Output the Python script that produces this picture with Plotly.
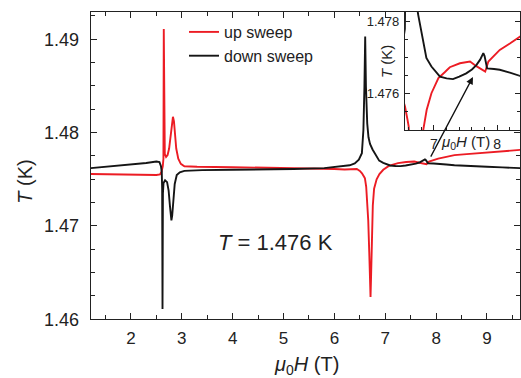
import plotly.graph_objects as go

# Up sweep (red): field in tesla, sample temperature in kelvin
field_up = [1.21, 1.6, 2.0, 2.3, 2.5, 2.57, 2.60, 2.625, 2.638, 2.645, 2.652, 2.665,
            2.69, 2.72, 2.75, 2.78, 2.805, 2.825, 2.845, 2.865, 2.89, 2.93, 2.98,
            3.05, 3.3, 4.0, 4.8, 5.5, 6.0, 6.2, 6.35, 6.44, 6.50, 6.542, 6.58,
            6.60, 6.625, 6.645, 6.665, 6.685, 6.70, 6.71, 6.72, 6.735, 6.755,
            6.78, 6.83, 6.885, 6.96, 7.07, 7.17, 7.25, 7.41, 7.57, 7.67, 7.75,
            7.81, 7.86, 7.95, 8.04, 8.2, 8.36, 8.6, 8.9, 9.2, 9.65]
temp_up = [1.47557, 1.47553, 1.4755, 1.47548, 1.47547, 1.47553, 1.4758, 1.4764,
           1.4772, 1.4911, 1.4790, 1.4777, 1.4774, 1.4776, 1.4783, 1.4796,
           1.4810, 1.4817, 1.4812, 1.4797, 1.4783, 1.4772, 1.47665, 1.4764,
           1.47635, 1.4763, 1.47625, 1.4762, 1.4761, 1.47605, 1.4761, 1.4761,
           1.4759, 1.47565, 1.4753, 1.4751, 1.4742, 1.4728, 1.4706, 1.4672,
           1.4642, 1.4624, 1.4644, 1.4685, 1.4722, 1.4740, 1.4750, 1.47556,
           1.47602, 1.47644, 1.4766, 1.47674, 1.47685, 1.4769, 1.47677,
           1.47667, 1.47662, 1.4769, 1.47706, 1.47722, 1.4774, 1.47759,
           1.4777, 1.47785, 1.47797, 1.47815]

# Down sweep (black)
field_down = [1.21, 1.6, 2.0, 2.3, 2.5, 2.56, 2.59, 2.605, 2.613, 2.62, 2.628, 2.64,
              2.67, 2.71, 2.74, 2.765, 2.785, 2.795, 2.81, 2.83, 2.86, 2.90, 2.96,
              3.05, 3.4, 4.0, 4.6, 5.2, 5.8, 6.1, 6.3, 6.40, 6.48, 6.54, 6.555,
              6.57, 6.59, 6.605, 6.62, 6.645, 6.67, 6.70, 6.75, 6.80, 6.88, 6.96,
              7.07, 7.095, 7.20, 7.30, 7.40, 7.51, 7.60, 7.67, 7.73, 7.78, 7.80,
              7.84, 7.95, 8.04, 8.2, 8.36, 8.7, 9.0, 9.3, 9.65]
temp_down = [1.4762, 1.47638, 1.4766, 1.47675, 1.4769, 1.47685, 1.4764, 1.4758,
             1.4740, 1.4611, 1.4735, 1.4746, 1.4749, 1.4747, 1.4738, 1.4722,
             1.4708, 1.4706, 1.4711, 1.4726, 1.4745, 1.47545, 1.47575, 1.4759,
             1.47598, 1.47603, 1.47605, 1.4761, 1.4762, 1.4764, 1.4765, 1.4767,
             1.4771, 1.4778, 1.4787, 1.4803, 1.4849, 1.4903, 1.4849, 1.4810,
             1.4795, 1.4788, 1.4782, 1.4777, 1.4770, 1.47676, 1.47653, 1.47648,
             1.47643, 1.47641, 1.47648, 1.47657, 1.47668, 1.4768, 1.47695,
             1.47713, 1.47705, 1.47671, 1.47669, 1.47667, 1.47659, 1.4765,
             1.47645, 1.47635, 1.47628, 1.4762]

RED = "#ec1c24"
BLACK = "#151515"
INK = "#222222"
FONT = "Liberation Sans, Arial, sans-serif"

W, H = 521, 378


def px_x(p):
    return p / W


def px_y(p):
    return 1 - p / H


fig = go.Figure()

fig.add_trace(go.Scatter(x=field_up, y=temp_up, mode="lines", name="up sweep",
                         line=dict(color=RED, width=1.9)))
fig.add_trace(go.Scatter(x=field_down, y=temp_down, mode="lines", name="down sweep",
                         line=dict(color=BLACK, width=1.9)))

# Inset: zoom on the 6.5-8.4 T region
fig.add_trace(go.Scatter(x=field_up, y=temp_up, mode="lines", showlegend=False,
                         line=dict(color=RED, width=1.9), xaxis="x2", yaxis="y2"))
fig.add_trace(go.Scatter(x=field_down, y=temp_down, mode="lines", showlegend=False,
                         line=dict(color=BLACK, width=1.9), xaxis="x2", yaxis="y2"))

axis_common = dict(showgrid=False, zeroline=False, showline=True, linecolor=INK,
                   linewidth=1.2, ticks="inside", tickcolor=INK, automargin=False)

fig.update_layout(
    width=W, height=H, autosize=False,
    margin=dict(l=0, r=0, t=0, b=0, pad=0),
    paper_bgcolor="white", plot_bgcolor="white",
    font=dict(family=FONT, color=INK),
    xaxis=dict(domain=[px_x(90.7), px_x(520)], range=[1.208, 9.649],
               tick0=0, dtick=1, ticklen=6, tickwidth=1.2, mirror="allticks",
               minor=dict(dtick=0.5, ticklen=4, tickcolor=INK, ticks="inside"),
               tickfont=dict(size=17, color=INK), ticklabelstandoff=3,
               **axis_common),
    yaxis=dict(domain=[px_y(319.3), px_y(11.7)], range=[1.46, 1.49296],
               tick0=1.46, dtick=0.01, tickformat=".2f", ticklen=6, tickwidth=1.2,
               mirror="allticks",
               minor=dict(dtick=0.0025, ticklen=4, tickcolor=INK, ticks="inside"),
               tickfont=dict(size=18, color=INK), ticklabelstandoff=7,
               **axis_common),
    xaxis2=dict(domain=[px_x(405), px_x(520)], range=[6.542, 8.36], anchor="y2",
                tick0=0, dtick=1, ticklen=5, tickwidth=1.1, mirror=True,
                minor=dict(dtick=0.2, ticklen=3, tickcolor=INK, ticks="inside"),
                tickfont=dict(size=14, color=INK), ticklabelstandoff=1,
                **axis_common),
    yaxis2=dict(domain=[px_y(130), px_y(11.7)], range=[1.475, 1.47828], anchor="x2",
                tick0=1.476, dtick=0.002, tickformat=".3f", ticklen=5, tickwidth=1.1,
                mirror="allticks",
                minor=dict(dtick=0.0005, ticklen=3, tickcolor=INK, ticks="inside"),
                tickfont=dict(size=13, color=INK), ticklabelstandoff=2,
                **axis_common),
    legend=dict(x=px_x(184), y=px_y(15), xanchor="left", yanchor="top",
                bgcolor="rgba(0,0,0,0)", font=dict(size=16, color=INK),
                tracegroupgap=0),
)

annotations = [
    dict(text="<i>T</i> = 1.476 K", x=px_x(275.5), y=px_y(242.5), xref="paper",
         yref="paper", showarrow=False, font=dict(size=22, color=INK),
         xanchor="center", yanchor="middle"),
    dict(text="<i>μ</i><sub>0</sub><i>H</i> (T)", x=px_x(306), y=px_y(351),
         xref="paper", yref="paper", showarrow=False, font=dict(size=20, color=INK),
         xanchor="center", yanchor="top"),
    dict(text="<i>T</i> (K)", x=px_x(25), y=px_y(181.7), xref="paper", yref="paper",
         showarrow=False, textangle=-90, font=dict(size=20, color=INK),
         xanchor="center", yanchor="middle"),
    dict(text="<i>T</i> (K)", x=px_x(387), y=px_y(62), xref="paper", yref="paper",
         showarrow=False, textangle=-90, font=dict(size=15, color=INK),
         xanchor="center", yanchor="middle"),
    dict(text="<i>μ</i><sub>0</sub><i>H</i> (T)", x=px_x(465), y=px_y(131),
         xref="paper", yref="paper", showarrow=False, font=dict(size=15, color=INK),
         xanchor="center", yanchor="top"),
    # arrow pointing from the main-panel feature into the inset
    dict(text="", x=7.616, y=1.47647, xref="x2", yref="y2",
         ax=6.937, ay=1.47422, axref="x2", ayref="y2",
         showarrow=True, arrowhead=2, arrowsize=1.1, arrowwidth=1.3,
         arrowcolor="#111111"),
]
fig.update_layout(annotations=annotations)

fig.write_html("out.html")
